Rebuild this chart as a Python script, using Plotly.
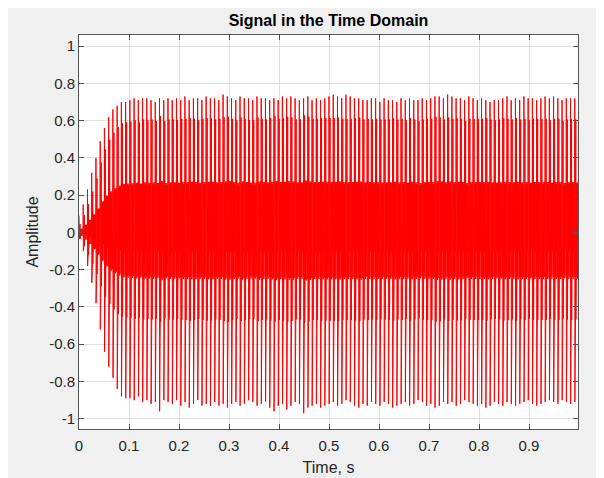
import plotly.graph_objects as go

# ---- data ----
# per-cycle positive peak (upper spike tip), start-up then steady state
peak_top = [
    0.09, 0.15, 0.23, 0.32, 0.40, 0.49, 0.56, 0.62, 0.66, 0.68, 0.70, 0.70,
    0.71, 0.72, 0.71, 0.72, 0.72, 0.71, 0.70, 0.72, 0.71, 0.72,
    0.71, 0.72, 0.71, 0.73, 0.71, 0.72, 0.72, 0.71, 0.73, 0.72,
    0.72, 0.71, 0.74, 0.73, 0.72, 0.71, 0.73, 0.72, 0.72, 0.71,
    0.73, 0.72, 0.72, 0.71, 0.72, 0.71, 0.73, 0.72, 0.73, 0.72,
    0.71, 0.72, 0.73, 0.71, 0.72, 0.71, 0.72, 0.73, 0.74, 0.73,
    0.72, 0.74, 0.73, 0.72, 0.72, 0.71, 0.71, 0.72, 0.72, 0.70,
    0.72, 0.71, 0.71, 0.70, 0.72, 0.71, 0.72, 0.71, 0.71, 0.72,
    0.71, 0.72, 0.73, 0.73, 0.72, 0.74, 0.73, 0.72, 0.72, 0.71,
    0.73, 0.72, 0.71, 0.72, 0.71, 0.70, 0.71, 0.71, 0.72, 0.73,
    0.71, 0.72, 0.71, 0.73, 0.72, 0.72, 0.71, 0.72, 0.73, 0.72,
    0.73, 0.72, 0.71, 0.72, 0.72, 0.72,
]
# per-cycle negative peak (lower spike tip)
peak_bottom = [
    -0.03, -0.10, -0.18, -0.27, -0.38, -0.52, -0.64, -0.72, -0.78, -0.84, -0.88, -0.89,
    -0.89, -0.90, -0.88, -0.91, -0.90, -0.92, -0.91, -0.96, -0.90, -0.91,
    -0.92, -0.90, -0.93, -0.91, -0.94, -0.92, -0.90, -0.93, -0.92, -0.93,
    -0.91, -0.93, -0.92, -0.94, -0.92, -0.91, -0.93, -0.92, -0.90, -0.91,
    -0.93, -0.92, -0.91, -0.94, -0.96, -0.93, -0.92, -0.95, -0.93, -0.91,
    -0.92, -0.97, -0.94, -0.93, -0.92, -0.94, -0.93, -0.92, -0.91, -0.93,
    -0.92, -0.90, -0.91, -0.93, -0.94, -0.92, -0.93, -0.91, -0.92, -0.93,
    -0.91, -0.92, -0.94, -0.93, -0.92, -0.91, -0.93, -0.92, -0.90, -0.91,
    -0.93, -0.92, -0.94, -0.93, -0.91, -0.92, -0.91, -0.93, -0.92, -0.90,
    -0.91, -0.92, -0.93, -0.92, -0.94, -0.93, -0.91, -0.92, -0.93, -0.91,
    -0.92, -0.93, -0.92, -0.91, -0.90, -0.92, -0.93, -0.92, -0.91, -0.90,
    -0.91, -0.92, -0.90, -0.91, -0.92, -0.91,
]
# remaining sample levels inside one steady-state cycle (after the two spikes)
inner_levels = [0.60, -0.47, 0.27, -0.25, 0.59, -0.46, 0.26, -0.24, 0.61, -0.47,
                0.27, -0.25, 0.18, -0.12, 0.26, -0.24, 0.12, -0.10,
                0.27, -0.23, 0.17, -0.11, 0.25, -0.25, 0.10, -0.08,
                0.26, -0.24, 0.15, -0.10, 0.27, -0.22, 0.05, -0.07,
                0.25, -0.24, 0.02, -0.05]
steady_top = 0.72
steady_bottom = -0.92
duration = 1.0  # seconds

x_ticks = [0, 0.1, 0.2, 0.3, 0.4, 0.5, 0.6, 0.7, 0.8, 0.9]
x_tick_text = ["0", "0.1", "0.2", "0.3", "0.4", "0.5", "0.6", "0.7", "0.8", "0.9"]
y_ticks = [-1, -0.8, -0.6, -0.4, -0.2, 0, 0.2, 0.4, 0.6, 0.8, 1]
y_tick_text = ["-1", "-0.8", "-0.6", "-0.4", "-0.2", "0", "0.2", "0.4", "0.6", "0.8", "1"]

# ---- assemble the sampled signal ----
signal = []
for top, bot in zip(peak_top, peak_bottom):
    gain = (top - bot) / (steady_top - steady_bottom)
    signal.append(top)
    signal.append(bot)
    signal.extend(v * gain for v in inner_levels)
fs = len(signal) / duration
time = [n / fs for n in range(len(signal))]

fig = go.Figure()
fig.add_trace(go.Scatter(
    x=time, y=signal, mode="lines",
    line=dict(color="rgb(255,0,0)", width=1.0),
    hoverinfo="skip", showlegend=False,
))

FONT = "Liberation Sans, Arial, Helvetica, sans-serif"
W, H = 588, 470
fig.update_layout(
    width=W, height=H,
    margin=dict(l=71, r=18, t=27, b=49),
    paper_bgcolor="#f0f0f0", plot_bgcolor="white",
    font=dict(family=FONT, size=15, color="#262626"),
    title=dict(text="<b>Signal in the Time Domain</b>", x=0.5, xref="paper", xanchor="center",
               y=1 - 12 / H, yanchor="middle", yref="container",
               font=dict(family=FONT, size=16, color="#000000")),
)
common = dict(
    showgrid=True, gridcolor="#e0e0e0", gridwidth=1, zeroline=False,
    showline=True, linecolor="#555555", linewidth=1, mirror="ticks",
    ticks="inside", ticklen=5, tickcolor="#555555", automargin=False,
    tickfont=dict(family=FONT, size=15, color="#262626"),
)
fig.update_xaxes(
    range=[0, 0.998], tickvals=x_ticks, ticktext=x_tick_text, ticklabelstandoff=3,
    title=dict(text="Time, s", standoff=8, font=dict(family=FONT, size=16, color="#262626")),
    **common,
)
fig.update_yaxes(
    range=[-1.055, 1.06], tickvals=y_ticks, ticktext=y_tick_text,
    title=dict(text="Amplitude", standoff=6, font=dict(family=FONT, size=16, color="#262626")),
    **common,
)

fig.write_html("out.html")
